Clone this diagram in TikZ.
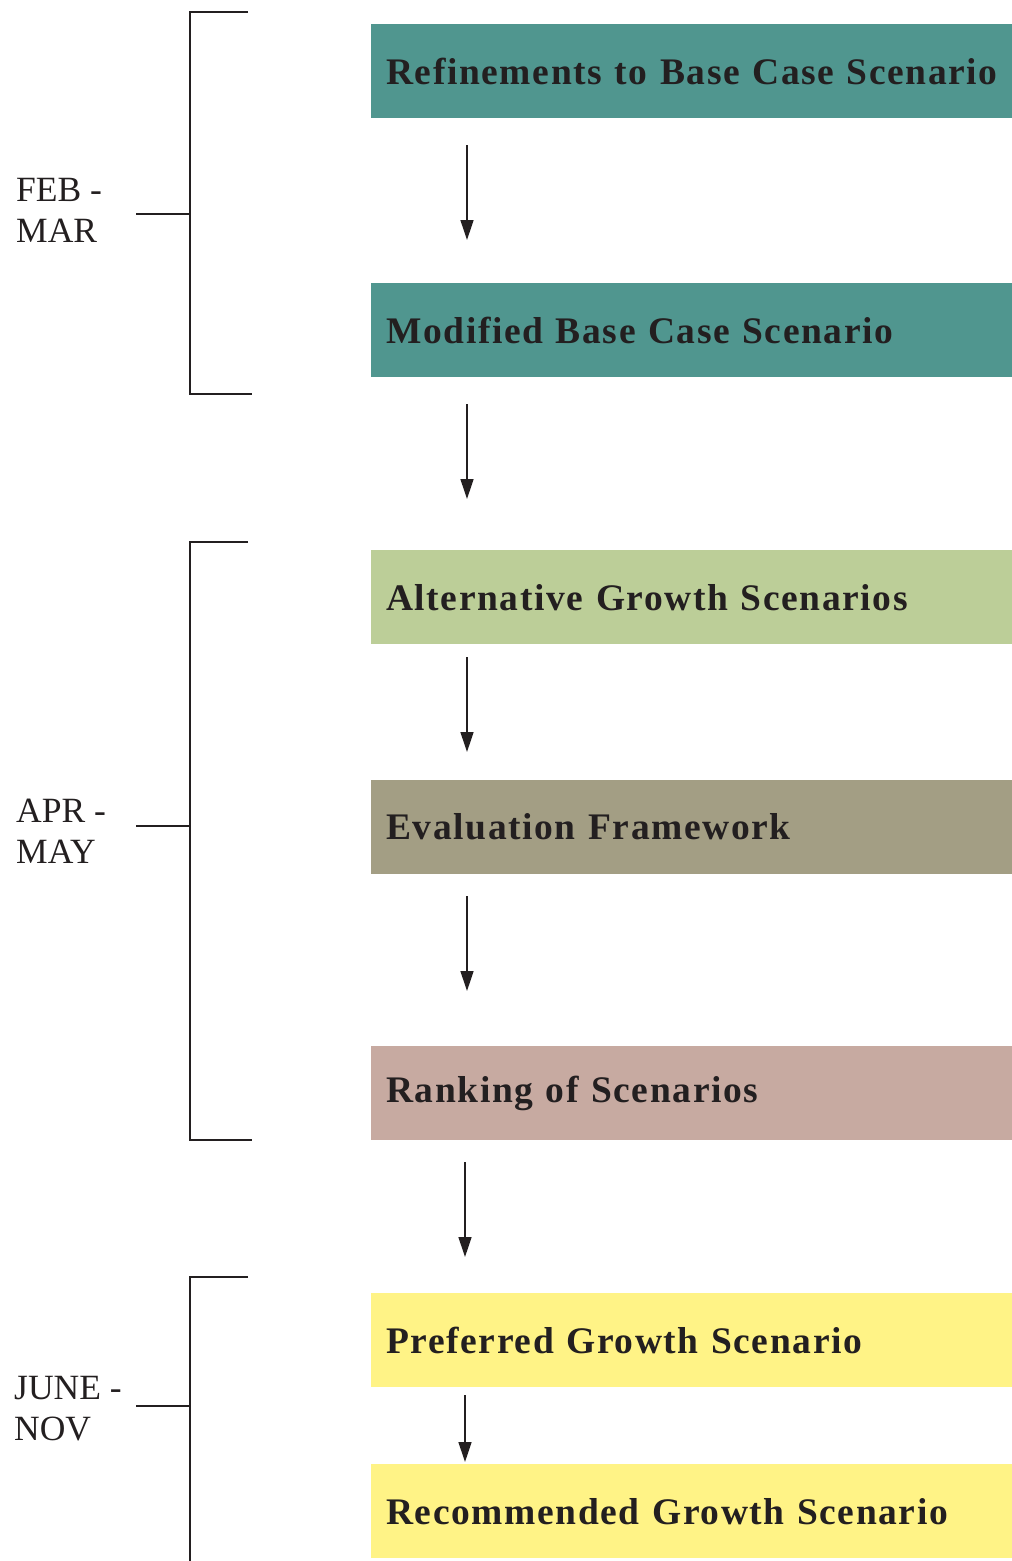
\documentclass[tikz,border=0pt]{standalone}
\usepackage{fontspec}
\setmainfont{Liberation Serif}
\usetikzlibrary{arrows.meta}
\definecolor{teal1}{HTML}{50968F}
\definecolor{green1}{HTML}{BCCE98}
\definecolor{gray1}{HTML}{A39E84}
\definecolor{pink1}{HTML}{C7AAA1}
\definecolor{yellow1}{HTML}{FFF386}
\definecolor{ink}{HTML}{231F20}
\tikzset{
  stagebox/.style={rectangle, anchor=north west, minimum width=641pt, minimum height=94pt,
    inner xsep=15pt, text width=611pt, align=left, text=ink,
    font=\fontsize{37.5}{40}\selectfont\bfseries\addfontfeatures{LetterSpace=4.3}},
  flowarrow/.style={draw=ink, line width=1.3pt, -{Triangle[length=20pt,width=13pt]}},
  bracketline/.style={draw=ink, line width=1.3pt},
  period/.style={anchor=west, align=left, text=ink, inner sep=0pt,
    font=\fontsize{35.5}{41}\selectfont}
}
\begin{document}
\begin{tikzpicture}[x=1pt,y=-1pt]
\useasboundingbox (0,0) rectangle (1012,1561);
\node[stagebox, fill=teal1] (b1) at (371,24) {\mbox{Refinements to Base Case Scenario}};
\node[stagebox, fill=teal1] (b2) at (371,283) {\mbox{Modified Base Case Scenario}};
\node[stagebox, fill=green1] (b3) at (371,550) {\mbox{Alternative Growth Scenarios}};
\node[stagebox, fill=gray1] (b4) at (371,780) {\mbox{Evaluation Framework}};
\node[stagebox, fill=pink1] (b5) at (371,1046) {\mbox{Ranking of Scenarios}};
\node[stagebox, fill=yellow1] (b6) at (371,1293) {\mbox{Preferred Growth Scenario}};
\node[stagebox, fill=yellow1] (b7) at (371,1464) {\mbox{Recommended Growth Scenario}};

\draw[flowarrow, shorten <=27pt, shorten >=43pt] ([xshift=96pt]b1.south west) -- ([xshift=96pt]b2.north west);
\draw[flowarrow, shorten <=27pt, shorten >=51pt] ([xshift=96pt]b2.south west) -- ([xshift=96pt]b3.north west);
\draw[flowarrow, shorten <=13pt, shorten >=28pt] ([xshift=96pt]b3.south west) -- ([xshift=96pt]b4.north west);
\draw[flowarrow, shorten <=22pt, shorten >=55pt] ([xshift=96pt]b4.south west) -- ([xshift=96pt]b5.north west);
\draw[flowarrow, shorten <=22pt, shorten >=36pt] ([xshift=94pt]b5.south west) -- ([xshift=94pt]b6.north west);
\draw[flowarrow, shorten <=8pt, shorten >=2pt] ([xshift=94pt]b6.south west) -- ([xshift=94pt]b7.north west);

% brackets
\coordinate (k1t) at (248,12); \coordinate (k1b) at (252,394); \coordinate (k1m) at (136,214);
\draw[bracketline] (k1t) -- (190,12) -- (190,394) -- (k1b);
\draw[bracketline] (k1m) -- (190,214);
\node[period] (l1) at (16,210) {FEB -\\MAR};

\coordinate (k2t) at (248,542); \coordinate (k2b) at (252,1140); \coordinate (k2m) at (136,826);
\draw[bracketline] (k2t) -- (190,542) -- (190,1140) -- (k2b);
\draw[bracketline] (k2m) -- (190,826);
\node[period] (l2) at (16,831) {APR -\\MAY};

\coordinate (k3t) at (248,1277); \coordinate (k3b) at (190,1561); \coordinate (k3m) at (136,1406);
\draw[bracketline] (k3t) -- (190,1277) -- (k3b);
\draw[bracketline] (k3m) -- (190,1406);
\node[period] (l3) at (14,1409) {JUNE -\\NOV};
\end{tikzpicture}
\end{document}
